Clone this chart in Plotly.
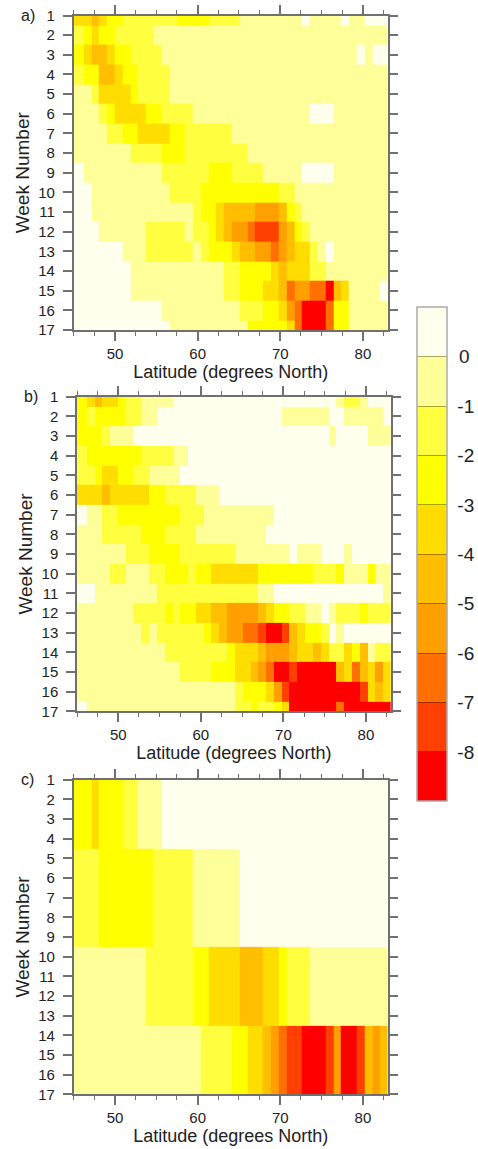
import plotly.graph_objects as go

weeks = list(range(1, 18))
lat_edges = [45.0, 46.17, 47.12, 48.06, 49.01, 49.95, 50.90, 51.84, 52.79, 53.73, 54.68,
             55.62, 56.57, 57.51, 58.46, 59.40, 60.35, 61.29, 62.24, 63.18, 64.13,
             65.07, 66.02, 66.96, 67.91, 68.85, 69.80, 70.74, 71.69, 72.63, 73.58,
             74.52, 75.47, 76.41, 77.36, 78.30, 79.25, 80.19, 81.14, 82.08, 83.03]
level_ticks = [0, -1, -2, -3, -4, -5, -6, -7, -8]
level_labels = ["\u00a0\u200a0", "\u00a0-1", "\u00a0-2", "\u00a0-3", "\u00a0-4",
                "\u00a0-5", "\u00a0-6", "\u00a0-7", "\u00a0-8"]
band_colors = ["#FF0000", "#FF4000", "#FF7000", "#FFA000", "#FFBF00",
               "#FFDD00", "#FFFF00", "#FFFF40", "#FFFF99", "#FFFFEE"]

# Each row: (band value, last column of the run). Band value v means anomaly in (v-1, v);
# 1 means above zero, -8 means below -8.
panel_a_rows = [
    [(-3,2),(-4,3),(-3,4),(-2,6),(-1,13),(-2,17),(-1,21),(0,29),(1,30),(0,34),(1,35),(0,37),(1,40)],
    [(-1,1),(-2,2),(-3,3),(-2,5),(-1,10),(0,40)],
    [(-2,1),(-3,2),(-4,4),(-3,5),(-2,7),(-1,11),(0,36),(1,37),(0,38),(1,40)],
    [(-1,1),(-2,3),(-4,5),(-3,6),(-2,8),(-1,12),(0,40)],
    [(0,2),(-1,3),(-3,7),(-2,8),(-1,12),(0,40)],
    [(0,3),(-1,4),(-2,5),(-3,9),(-2,11),(-1,15),(0,30),(1,33),(0,40)],
    [(0,4),(-1,6),(-2,8),(-3,12),(-2,14),(-1,20),(0,40)],
    [(0,7),(-1,11),(-2,14),(-1,22),(0,40)],
    [(1,1),(0,11),(-1,17),(-2,20),(-1,24),(0,29),(1,33),(0,40)],
    [(1,2),(0,12),(-1,16),(-2,26),(-1,28),(0,40)],
    [(1,2),(0,15),(-1,16),(-2,18),(-3,19),(-4,23),(-5,26),(-4,27),(-2,28),(-1,29),(0,40)],
    [(1,3),(0,9),(-1,14),(0,15),(-1,17),(-2,18),(-3,19),(-4,20),(-5,22),(-6,23),(-7,26),(-5,27),(-4,28),(-2,29),(-1,30),(0,40)],
    [(1,6),(0,9),(-1,15),(0,16),(-1,17),(-2,20),(-3,21),(-4,23),(-5,25),(-6,26),(-5,27),(-4,28),(-3,30),(-1,31),(0,32),(1,33),(0,40)],
    [(1,7),(0,19),(-1,21),(-2,25),(-3,26),(-4,27),(-3,30),(-1,32),(0,40)],
    [(1,7),(0,19),(-1,21),(-2,24),(-3,26),(-4,27),(-6,28),(-5,30),(-6,32),(-8,33),(-4,34),(-3,35),(0,39),(1,40)],
    [(1,11),(0,21),(-1,24),(-2,26),(-3,27),(-5,28),(-6,29),(-8,32),(-6,33),(-2,35),(0,40)],
    [(1,12),(0,22),(-2,27),(-3,28),(-6,29),(-8,32),(-6,33),(-2,35),(0,40)],
]
panel_b_rows = [
    [(-2,1),(-3,2),(-4,3),(-3,5),(-2,6),(-1,8),(0,12),(1,33),(0,34),(-1,36),(0,37),(1,40)],
    [(-2,1),(-1,2),(-2,6),(-1,8),(0,10),(1,26),(0,32),(1,34),(0,39),(1,40)],
    [(-2,3),(-1,4),(0,7),(1,32),(0,33),(1,37),(0,40)],
    [(-1,1),(-2,8),(-1,12),(0,14),(1,40)],
    [(-1,2),(-2,3),(-3,5),(-2,7),(-1,9),(0,13),(1,40)],
    [(-3,3),(-4,4),(-3,9),(-2,11),(-1,15),(0,18),(1,40)],
    [(1,1),(0,3),(-1,5),(-2,13),(-1,16),(0,25),(1,40)],
    [(0,3),(-1,8),(-2,11),(-1,15),(0,24),(1,40)],
    [(0,6),(-1,9),(-2,13),(-1,20),(0,27),(1,28),(0,31),(1,34),(0,35),(1,40)],
    [(0,4),(-1,6),(0,9),(-1,11),(-2,14),(-1,15),(-2,17),(-3,23),(-2,30),(-1,33),(-2,34),(0,37),(-2,38),(0,40)],
    [(1,2),(0,10),(-1,23),(0,25),(1,39),(0,40)],
    [(0,7),(-1,11),(-2,12),(-1,13),(-2,15),(-3,17),(-4,19),(-5,23),(-4,24),(-3,25),(-2,27),(-1,29),(0,31),(1,32),(0,33),(-1,36),(-2,37),(-1,40)],
    [(0,8),(-1,9),(0,10),(-1,16),(-2,17),(-3,18),(-4,19),(-5,21),(-6,23),(-7,24),(-8,26),(-7,27),(-4,28),(-3,29),(-2,31),(-1,32),(1,33),(0,34),(1,40)],
    [(0,11),(-1,19),(-2,20),(-3,23),(-4,24),(-5,27),(-4,28),(-3,30),(-4,31),(-3,32),(-1,34),(-3,35),(-2,36),(-4,37),(0,38),(-1,40)],
    [(0,13),(-1,17),(-2,20),(-3,22),(-4,23),(-5,24),(-6,25),(-8,27),(-7,28),(-8,33),(-4,34),(-3,35),(-6,36),(-4,37),(-3,38),(-5,39),(-3,40)],
    [(0,20),(-1,21),(-2,24),(-3,25),(-5,26),(-7,27),(-8,36),(-7,37),(-3,38),(-4,39),(-3,40)],
    [(1,1),(0,20),(-1,22),(-2,23),(-1,25),(-2,26),(-3,27),(-8,33),(-6,34),(-8,40)],
]
panel_c_rows = [
    [(-2,2),(-3,3),(-2,6),(-1,8),(0,11),(1,40)],
    [(-2,2),(-3,3),(-2,6),(-1,8),(0,11),(1,40)],
    [(-2,2),(-3,3),(-2,6),(-1,8),(0,11),(1,40)],
    [(-2,2),(-3,3),(-2,6),(-1,8),(0,11),(1,40)],
    [(-1,3),(-2,10),(-1,15),(0,21),(1,40)],
    [(-1,3),(-2,10),(-1,15),(0,21),(1,40)],
    [(-1,3),(-2,10),(-1,15),(0,21),(1,40)],
    [(-1,3),(-2,10),(-1,15),(0,21),(1,40)],
    [(-1,3),(-2,10),(-1,15),(0,21),(1,40)],
    [(0,9),(-1,15),(-2,17),(-3,21),(-4,24),(-3,26),(-2,27),(-1,30),(0,40)],
    [(0,9),(-1,15),(-2,17),(-3,21),(-4,24),(-3,26),(-2,27),(-1,30),(0,40)],
    [(0,9),(-1,15),(-2,17),(-3,21),(-4,24),(-3,26),(-2,27),(-1,30),(0,40)],
    [(0,9),(-1,15),(-2,17),(-3,21),(-4,24),(-3,26),(-2,27),(-1,30),(0,40)],
    [(0,16),(-1,20),(-2,22),(-3,24),(-4,25),(-5,26),(-6,27),(-7,29),(-8,32),(-7,33),(-5,34),(-8,36),(-7,37),(-4,38),(-5,39),(-4,40)],
    [(0,16),(-1,20),(-2,22),(-3,24),(-4,25),(-5,26),(-6,27),(-7,29),(-8,32),(-7,33),(-5,34),(-8,36),(-7,37),(-4,38),(-5,39),(-4,40)],
    [(0,16),(-1,20),(-2,22),(-3,24),(-4,25),(-5,26),(-6,27),(-7,29),(-8,32),(-7,33),(-5,34),(-8,36),(-7,37),(-4,38),(-5,39),(-4,40)],
    [(0,16),(-1,20),(-2,22),(-3,24),(-4,25),(-5,26),(-6,27),(-7,29),(-8,32),(-7,33),(-5,34),(-8,36),(-7,37),(-4,38),(-5,39),(-4,40)],
]
panel_letters = ["a)", "b)", "c)"]

W, H = 478, 1149
FONT = "Liberation Sans"
TEXT = "#222222"
AXC = "#707070"


def expand(rows):
    out = []
    for row in rows:
        vals, start = [], 0
        for v, end in row:
            vals += [v - 0.5] * (end - start)
            start = end
        assert len(vals) == 40
        out.append(vals)
    return out


panels = [
    (panel_a_rows, 73.7, 387.7, 15.5, 330.0),
    (panel_b_rows, 77.0, 390.7, 396.7, 711.3),
    (panel_c_rows, 73.7, 387.7, 779.7, 1094.3),
]

scale = []
for i, c in enumerate(band_colors):
    scale.append([i / 10, c])
    scale.append([(i + 1) / 10, c])

fig = go.Figure()
annotations = []
layout = {}
for i, (rows, l, r, t, b) in enumerate(panels):
    n = "" if i == 0 else str(i + 1)
    fig.add_trace(go.Heatmap(x=lat_edges, y=weeks, z=expand(rows), coloraxis="coloraxis",
                             xaxis="x" + n, yaxis="y" + n, xgap=0, ygap=0))
    common = dict(ticks="outside", ticklen=9, tickwidth=1.5, tickcolor=AXC, showline=True,
                  linecolor=AXC, linewidth=1.5, mirror="allticks", showgrid=False, zeroline=False,
                  tickfont=dict(family=FONT, size=15, color=TEXT), automargin=False)
    layout["xaxis" + n] = dict(
        domain=[l / W, r / W], range=[45, 83], anchor="y" + n, tick0=50, dtick=10, ticklabelstandoff=0,
        minor=dict(ticks="outside", ticklen=4, tickwidth=1, tickcolor=AXC, tick0=0, dtick=2.5, showgrid=False),
        title=dict(text="Latitude (degrees North)", font=dict(family=FONT, size=18, color=TEXT), standoff=3),
        **common)
    layout["yaxis" + n] = dict(
        domain=[1 - b / H, 1 - t / H], range=[17, 1], anchor="x" + n, tick0=1, dtick=1, ticklabelstandoff=5,
        title=dict(text="Week Number", font=dict(family=FONT, size=19, color=TEXT), standoff=4),
        **common)
    annotations.append(dict(text=panel_letters[i], xref=f"x{n} domain", yref=f"y{n} domain",
                            x=-46 / (r - l), y=1, xanchor="center", yanchor="middle", showarrow=False,
                            font=dict(family=FONT, size=16, color=TEXT)))

fig.update_layout(
    width=W, height=H, margin=dict(l=0, r=0, t=0, b=0, autoexpand=False),
    paper_bgcolor="white", plot_bgcolor="white",
    annotations=annotations,
    coloraxis=dict(
        cmin=-9, cmax=1, colorscale=scale,
        colorbar=dict(x=417 / W, xanchor="left", xpad=0, y=1 - 307.3 / H, yanchor="top", ypad=0,
                      len=494 / H, lenmode="fraction", thickness=30, outlinecolor="#aaaaaa", outlinewidth=1.5,
                      tickmode="array", tickvals=level_ticks, ticktext=level_labels,
                      ticks="inside", ticklen=30, tickwidth=1, tickcolor="rgba(0,0,0,0.35)",
                      tickfont=dict(family=FONT, size=19, color=TEXT)),
    ),
    **layout,
)
fig.write_html("out.html", config=dict(displayModeBar=False), post_script="document.body.style.margin='0';")
